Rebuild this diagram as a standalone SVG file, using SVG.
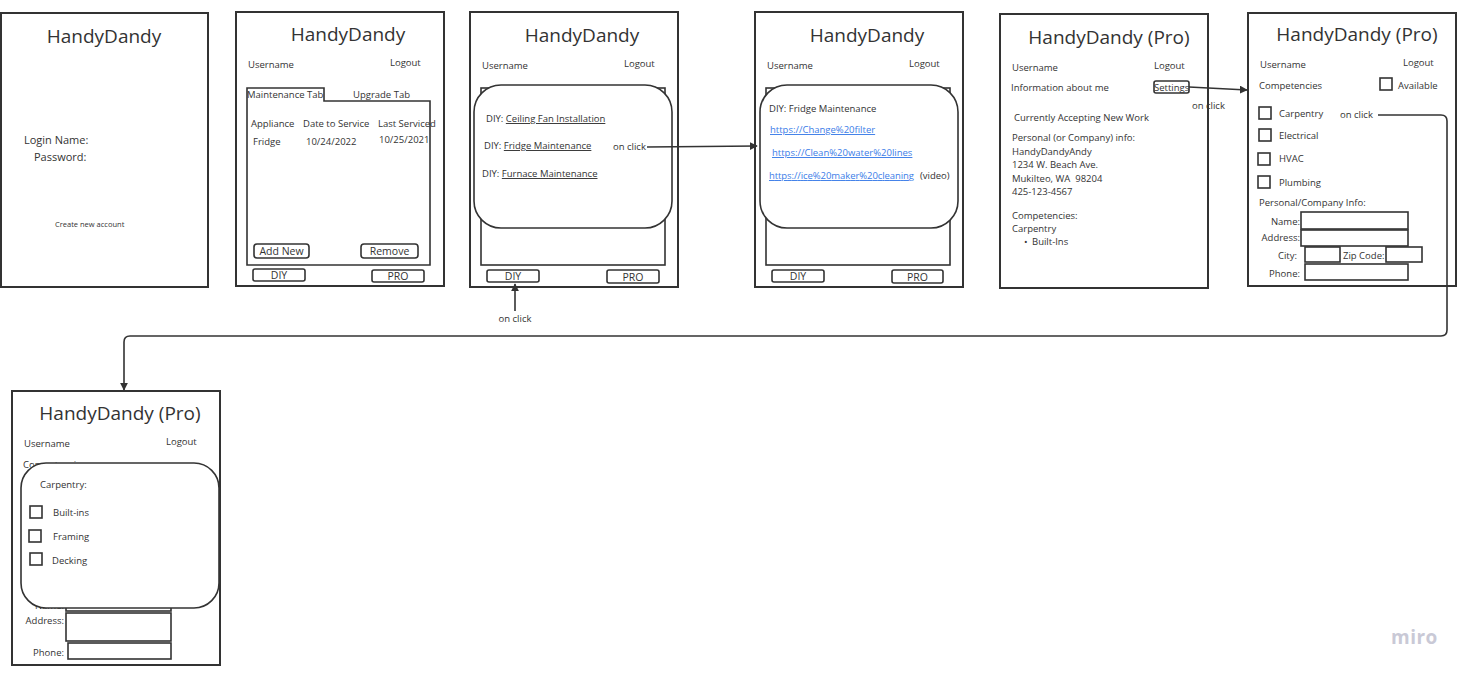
<svg xmlns="http://www.w3.org/2000/svg" width="1472" height="679" viewBox="0 0 1472 679">
<style>
text{font-family:"Open Sans","Noto Sans","Liberation Sans",sans-serif;fill:#333}
.frame{fill:#fff;stroke:#333;stroke-width:2}
.ln{fill:none;stroke:#333;stroke-width:1.6}
.box{fill:#fff;stroke:#333;stroke-width:1.6}
.pop{fill:#fff;stroke:#333;stroke-width:1.6}
.t{font-size:19px;text-anchor:middle}
.s{font-size:9.5px}
.m{font-size:11px}
.b{font-size:10.5px;text-anchor:middle}
.u{text-decoration:underline}
.lk{fill:#3b7de8;text-decoration:underline}
.r{text-anchor:end}
.c{text-anchor:middle}
.con{fill:none;stroke:#333;stroke-width:1.6}
</style>
<defs>
<marker id="ah" viewBox="0 0 10 10" refX="9" refY="5" markerWidth="8" markerHeight="8" markerUnits="userSpaceOnUse" orient="auto">
<path d="M0,0 L10,5 L0,10 z" fill="#333"/>
</marker>
</defs>
<rect width="1472" height="679" fill="#fff"/>

<g id="login">
<rect class="frame" x="1" y="13" width="207" height="274"/>
<text class="t" x="104" y="43">HandyDandy</text>
<text class="m" x="24" y="144">Login Name:</text>
<text class="m" x="34" y="161">Password:</text>
<text x="55" y="227" style="font-size:7.5px">Create new account</text>
</g>

<g id="maintenance">
<rect class="frame" x="236" y="12" width="208" height="274"/>
<text class="t" x="348" y="41">HandyDandy</text>
<text class="s" x="248" y="68">Username</text>
<text class="s" x="390" y="66">Logout</text>
<path class="ln" d="M247,265 V88 H324 V101 H430 V265 Z"/>
<text class="s" x="247" y="98">Maintenance Tab</text>
<text class="s" x="353" y="98">Upgrade Tab</text>
<text class="s" x="251" y="127">Appliance</text>
<text class="s" x="303" y="127">Date to Service</text>
<text class="s" x="378" y="127">Last Serviced</text>
<text class="s" x="253" y="145">Fridge</text>
<text class="s" x="306" y="145">10/24/2022</text>
<text class="s" x="379" y="143">10/25/2021</text>
<rect class="box" x="254" y="244" width="55" height="14" rx="3"/>
<text class="b" x="281.5" y="255">Add New</text>
<rect class="box" x="361" y="244" width="57" height="14" rx="3"/>
<text class="b" x="389.5" y="255">Remove</text>
<rect class="box" x="253" y="269" width="52" height="12" rx="2"/>
<text class="b" x="279" y="279">DIY</text>
<rect class="box" x="372" y="270" width="52" height="12" rx="2"/>
<text class="b" x="398" y="280">PRO</text>
</g>

<g id="diy-list">
<rect class="frame" x="470" y="12" width="208" height="275"/>
<text class="t" x="582" y="42">HandyDandy</text>
<text class="s" x="482" y="69">Username</text>
<text class="s" x="624" y="67">Logout</text>
<rect class="ln" x="481" y="88" width="184" height="177"/>
<rect class="pop" x="474" y="85" width="198" height="143" rx="27"/>
<text class="s" x="486" y="122">DIY: <tspan class="u">Ceiling Fan Installation</tspan></text>
<text class="s" x="484" y="149">DIY: <tspan class="u">Fridge Maintenance</tspan></text>
<text class="s" x="613" y="150">on click</text>
<text class="s" x="482" y="177">DIY: <tspan class="u">Furnace Maintenance</tspan></text>
<rect class="box" x="487" y="270" width="52" height="12" rx="2"/>
<text class="b" x="513" y="280">DIY</text>
<rect class="box" x="607" y="270" width="52" height="13" rx="2"/>
<text class="b" x="633" y="281">PRO</text>
</g>

<g id="diy-detail">
<rect class="frame" x="755" y="12" width="208" height="275"/>
<text class="t" x="867" y="42">HandyDandy</text>
<text class="s" x="767" y="69">Username</text>
<text class="s" x="909" y="67">Logout</text>
<rect class="ln" x="766" y="88" width="184" height="177"/>
<rect class="pop" x="760" y="85" width="198" height="143" rx="27"/>
<text class="s" x="769" y="112">DIY: Fridge Maintenance</text>
<text class="s lk" x="770" y="133">https://Change%20filter</text>
<text class="s lk" x="772" y="156">https://Clean%20water%20lines</text>
<text class="s lk" x="769" y="179" textLength="145">https://ice%20maker%20cleaning</text>
<text class="s" x="920" y="179">(video)</text>
<rect class="box" x="772" y="270" width="52" height="12" rx="2"/>
<text class="b" x="798" y="280">DIY</text>
<rect class="box" x="892" y="270" width="51" height="13" rx="2"/>
<text class="b" x="917.5" y="281">PRO</text>
</g>

<g id="pro-profile">
<rect class="frame" x="1000" y="14" width="208" height="274"/>
<text class="t" x="1109" y="44">HandyDandy (Pro)</text>
<text class="s" x="1012" y="71">Username</text>
<text class="s" x="1154" y="69">Logout</text>
<text class="s" x="1011" y="91">Information about me</text>
<rect class="box" x="1154" y="81" width="35" height="12" rx="2"/>
<text class="s" x="1154" y="91">Settings</text>
<text class="s" x="1014" y="121">Currently Accepting New Work</text>
<text class="s" x="1012" y="141">Personal (or Company) info:</text>
<text class="s" x="1012" y="155">HandyDandyAndy</text>
<text class="s" x="1012" y="168">1234 W. Beach Ave.</text>
<text class="s" x="1012" y="182" xml:space="preserve">Mukilteo, WA  98204</text>
<text class="s" x="1012" y="195">425-123-4567</text>
<text class="s" x="1012" y="219">Competencies:</text>
<text class="s" x="1012" y="232">Carpentry</text>
<text class="s" x="1024" y="245">•</text>
<text class="s" x="1032" y="245">Built-Ins</text>
</g>

<g id="pro-settings">
<rect class="frame" x="1248" y="13" width="208" height="273"/>
<text class="t" x="1357" y="41">HandyDandy (Pro)</text>
<text class="s" x="1260" y="68">Username</text>
<text class="s" x="1403" y="66">Logout</text>
<text class="s" x="1259" y="89">Competencies</text>
<rect class="box" x="1380" y="78" width="12" height="12"/>
<text class="s" x="1398" y="89">Available</text>
<rect class="box" x="1259" y="107" width="12" height="12"/>
<text class="s" x="1279" y="117">Carpentry</text>
<text class="s" x="1340" y="118">on click</text>
<rect class="box" x="1259" y="129" width="12" height="12"/>
<text class="s" x="1279" y="139">Electrical</text>
<rect class="box" x="1258" y="153" width="12" height="12"/>
<text class="s" x="1279" y="162">HVAC</text>
<rect class="box" x="1258" y="176" width="12" height="12"/>
<text class="s" x="1279" y="186">Plumbing</text>
<text class="s" x="1259" y="206">Personal/Company Info:</text>
<text class="s r" x="1300" y="225">Name:</text>
<rect class="box" x="1301" y="212" width="107" height="17"/>
<text class="s r" x="1300" y="241">Address:</text>
<rect class="box" x="1301" y="230" width="107" height="16"/>
<text class="s r" x="1297" y="259">City:</text>
<rect class="box" x="1305" y="247" width="35" height="15"/>
<text class="s" x="1343" y="259">Zip Code:</text>
<rect class="box" x="1386" y="247" width="36" height="15"/>
<text class="s r" x="1300" y="277">Phone:</text>
<rect class="box" x="1305" y="264" width="103" height="16"/>
</g>

<g id="pro-carpentry">
<rect class="frame" x="12" y="391" width="208" height="274"/>
<text class="t" x="120" y="420">HandyDandy (Pro)</text>
<text class="s" x="24" y="447">Username</text>
<text class="s" x="166" y="445">Logout</text>
<text class="s" x="23" y="468">Competencies</text>
<text class="s r" x="64" y="609">Name:</text>
<rect class="box" x="66" y="600" width="105" height="11"/>
<text class="s r" x="64" y="624">Address:</text>
<rect class="box" x="66" y="613" width="105" height="28"/>
<text class="s r" x="64" y="656">Phone:</text>
<rect class="box" x="68" y="643" width="103" height="16"/>
<rect class="pop" x="21" y="463" width="198" height="145" rx="25"/>
<text class="s" x="40" y="488">Carpentry:</text>
<rect class="box" x="30" y="506" width="12" height="12"/>
<text class="s" x="53" y="516">Built-ins</text>
<rect class="box" x="29" y="530" width="12" height="12"/>
<text class="s" x="53" y="540">Framing</text>
<rect class="box" x="30" y="553" width="12" height="12"/>
<text class="s" x="52" y="564">Decking</text>
</g>

<g id="connectors">
<path class="con" d="M647,147 L757,146" marker-end="url(#ah)"/>
<path class="con" d="M515,311 L515,284" marker-end="url(#ah)"/>
<text class="s c" x="515" y="322">on click</text>
<path class="con" d="M1189,87 L1247,90" marker-end="url(#ah)"/>
<text class="s" x="1192" y="109">on click</text>
<path class="con" d="M1378,115 H1441 Q1447,115 1447,121 V330 Q1447,336 1441,336 H130 Q124,336 124,342 V390" marker-end="url(#ah)"/>
</g>

<text x="1391" y="644" style="font-size:19px;font-weight:bold;fill:#c9c9d6;letter-spacing:0.5px">miro</text>
</svg>
